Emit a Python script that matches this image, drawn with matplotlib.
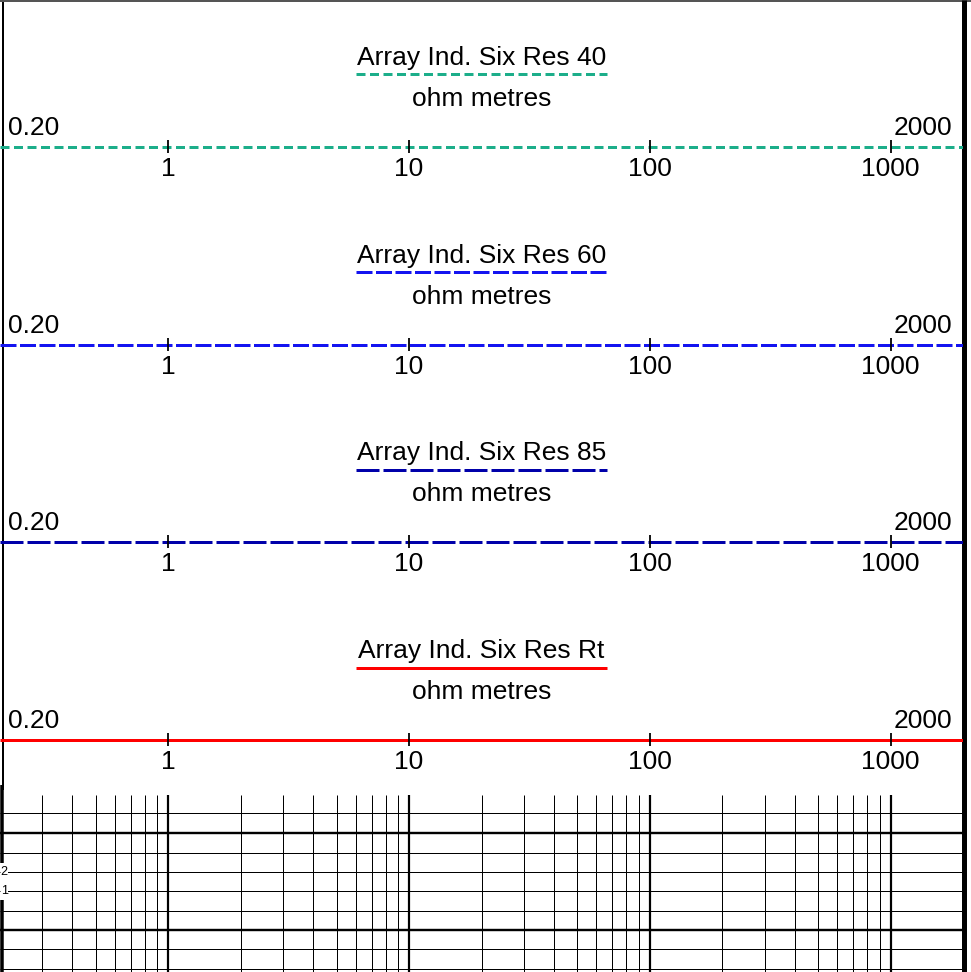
import matplotlib
matplotlib.use("Agg")
import matplotlib.pyplot as plt
import numpy as np

plt.rcParams['font.family'] = ['Liberation Sans', 'DejaVu Sans']
plt.rcParams['lines.scale_dashes'] = False

# ---- data ----
track_titles = ["Array Ind. Six Res 40", "Array Ind. Six Res 60",
                "Array Ind. Six Res 85", "Array Ind. Six Res Rt"]
track_units = ["ohm metres"] * 4
track_colors = ["#1cae8a", "#1414f0", "#0000aa", "#ff0000"]
scale_min = [0.2, 0.2, 0.2, 0.2]
scale_max = [2000, 2000, 2000, 2000]
scale_min_labels = ["0.20"] * 4
scale_max_labels = ["2000"] * 4
decade_ticks = [1, 10, 100, 1000]
decade_labels = ["1", "10", "100", "1000"]
depth_labels = ["2", "1"]

# ---- styles ----
PX = 0.72  # points per pixel at dpi 100
dashes = [(9 * PX, 4.5 * PX), (16 * PX, 3.5 * PX), (23 * PX, 4 * PX), None]

W, H = 971, 972
fig = plt.figure(figsize=(W / 100, H / 100), dpi=100)
R = 963  # pixel position of scale max
ax = fig.add_axes([0, 0, R / W, 1])
ax.set_xscale('log')
ax.set_xlim(0.2, 2000)
ax.set_ylim(H, 0)
ax.axis('off')

axp = fig.add_axes([0, 0, 1, 1], zorder=-1)
axp.set_xlim(0, W)
axp.set_ylim(H, 0)
axp.axis('off')

def px2data(px):
    return 0.2 * 10 ** (px / R * 4)

FS = 19
dy = 197.7
for k in range(4):
    o = k * dy
    c = track_colors[k]
    d = dashes[k]
    kw = dict(color=c, lw=3.0 * PX, solid_capstyle='butt', dash_capstyle='butt')
    # title / unit
    ax.text(20, 65 + o, track_titles[k], ha='center', va='baseline', fontsize=FS)
    ax.text(20, 106 + o, track_units[k], ha='center', va='baseline', fontsize=FS)
    # legend line
    ln, = ax.plot([px2data(356), px2data(607)], [74.5 + o, 74.5 + o], **kw)
    if d: ln.set_dashes(d)
    # scale line
    ln, = ax.plot([scale_min[k], scale_max[k]], [147 + o, 147 + o], **kw)
    if d: ln.set_dashes(d)
    # decade ticks
    ax.vlines(decade_ticks, 140 + o, 153 + o, color='black', lw=1.8 * PX, zorder=3)
    for t, lab in zip(decade_ticks, decade_labels):
        ax.text(t, 176 + o, lab, ha='center', va='baseline', fontsize=FS)
    axp.text(8, 135 + o, scale_min_labels[k], ha='left', va='baseline', fontsize=FS)
    axp.text(952, 135 + o, scale_max_labels[k], ha='right', va='baseline', fontsize=FS)

# ---- bottom grid ----
top = 795
minor = []
major = []
for e in range(-1, 3):
    for m in range(1, 10):
        v = m * 10.0 ** e
        if v < 0.25 or v > 1000:
            continue
        (major if m == 1 else minor).append(v)
major.append(1000)
ax.vlines(minor, top, H, color='black', lw=1.0 * PX)
ax.vlines(major, top, H, color='black', lw=2.2 * PX)

hy = [813, 833, 852.5, 871.5, 891, 910.5, 930, 949, 968.5]
thick = {833, 930}
for y in hy:
    axp.plot([0, R], [y, y], color='black', lw=(2.4 if y in thick else 1.0) * PX,
             solid_capstyle='butt')

for lab, y in zip(depth_labels, [871.5, 891]):
    axp.text(0.8, y, lab, ha='left', va='center', fontsize=9,
             bbox=dict(facecolor='white', edgecolor='none', pad=0.2))

# ---- borders ----
axp.plot([3, 3], [0, 790], color='black', lw=2 * PX, solid_capstyle='butt')
axp.plot([1.5, 1.5], [785, 863], color='black', lw=3.5 * PX, solid_capstyle='butt')
axp.plot([1.5, 1.5], [900, H], color='black', lw=3.5 * PX, solid_capstyle='butt')
axp.plot([0, W], [1, 1], color='#555555', lw=2 * PX)
axp.plot([963.5, 963.5], [0, H], color='black', lw=5 * PX, solid_capstyle='butt')

fig.savefig("out.png", dpi=100)
